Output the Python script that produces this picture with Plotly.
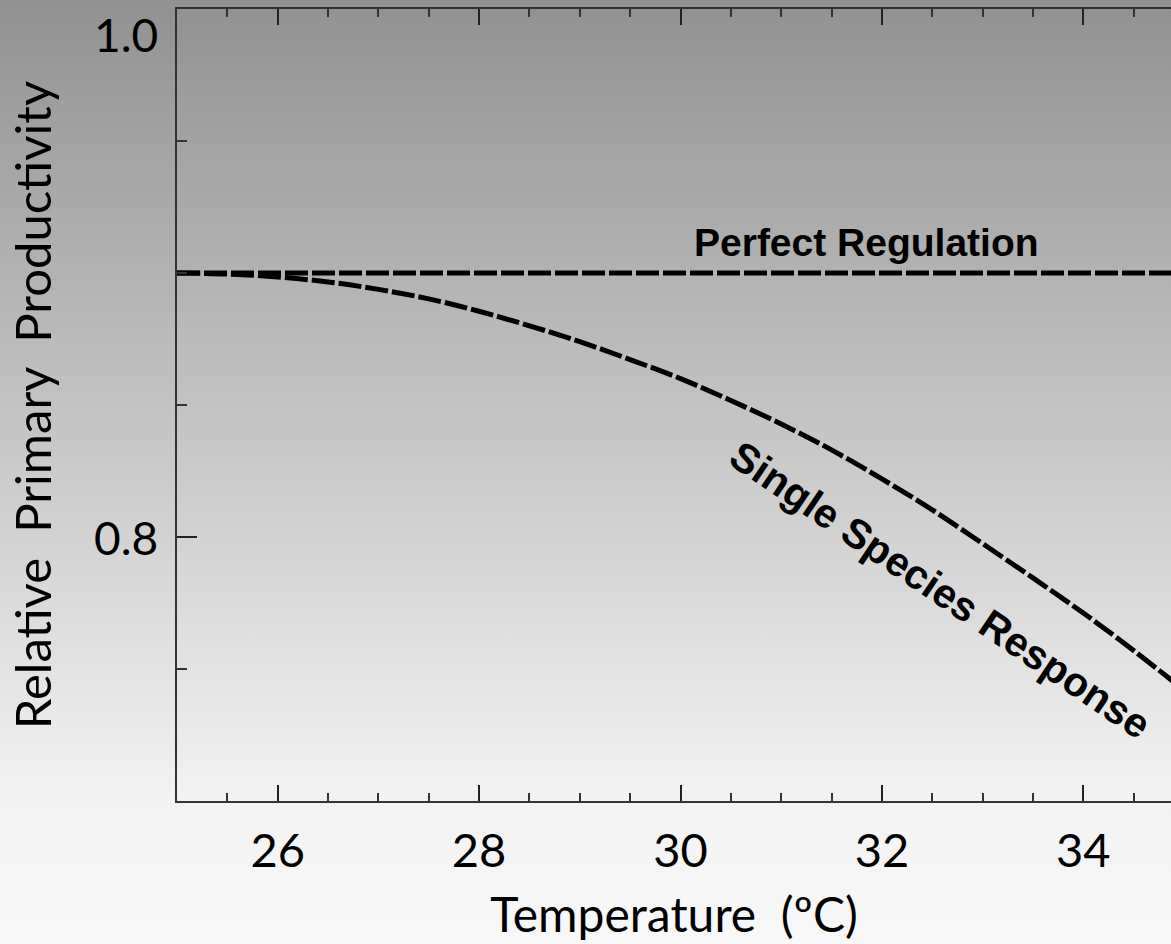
import base64
import plotly.graph_objects as go

# ---- data ----
temperature = [25, 25.5, 26, 26.5, 27, 27.5, 28, 28.5, 29, 29.5, 30,
               30.5, 31, 31.5, 32, 32.5, 33, 33.5, 34, 34.5, 35]
single_species = [0.900, 0.8996, 0.8985, 0.8966, 0.8938, 0.8902, 0.8855,
                  0.8800, 0.8740, 0.8672, 0.8600, 0.8517, 0.8428, 0.8330,
                  0.8220, 0.8103, 0.7975, 0.7845, 0.7712, 0.7570, 0.7420]
perfect_temperature = [25, 35]
perfect_regulation = [0.9, 0.9]

x_major_ticks = [26, 28, 30, 32, 34]
y_major_ticks = [0.8, 1.0]
y_tick_labels = ["0.8", "1.0"]

W, H = 1171, 944
L, R, T, B = 177, 0, 9, 143
PW, PH = W - L - R, H - T - B

AXFONT = "Lato, 'Open Sans', sans-serif"
LBLFONT = "'Liberation Sans', Arial, sans-serif"

svg = (f'<svg xmlns="http://www.w3.org/2000/svg" width="{W}" height="{H}">'
       '<defs><linearGradient id="g" x1="0" y1="0" x2="0" y2="1">'
       '<stop offset="0" stop-color="#919191"/>'
       '<stop offset="0.85" stop-color="#f3f3f3"/>'
       '<stop offset="1" stop-color="#f8f8f8"/>'
       '</linearGradient></defs>'
       f'<rect width="{W}" height="{H}" fill="url(#g)"/></svg>')
bg_src = "data:image/svg+xml;base64," + base64.b64encode(svg.encode()).decode()

fig = go.Figure()
fig.add_trace(go.Scatter(x=perfect_temperature, y=perfect_regulation, mode="lines",
                         line=dict(color="black", width=5, dash="23px,4px"),
                         showlegend=False, hoverinfo="skip"))
fig.add_trace(go.Scatter(x=temperature, y=single_species, mode="lines",
                         line=dict(color="black", width=5, dash="23px,4px", shape="spline"),
                         showlegend=False, hoverinfo="skip"))

fig.update_layout(
    width=W, height=H,
    margin=dict(l=L, r=R, t=T, b=B, pad=0, autoexpand=False),
    paper_bgcolor="#f8f8f8",
    plot_bgcolor="rgba(0,0,0,0)",
    images=[dict(source=bg_src, xref="paper", yref="paper",
                 x=-L / PW, y=1 + T / PH, sizex=W / PW, sizey=H / PH,
                 xanchor="left", yanchor="top", sizing="stretch",
                 layer="below")],
    xaxis=dict(
        range=[25, 25 + PW / 100.7],
        tickmode="array", tickvals=x_major_ticks,
        ticks="inside", ticklen=16, tickwidth=1.5, tickcolor="#222",
        showline=True, linecolor="#333", linewidth=1.5, mirror="ticks",
        showgrid=False, zeroline=False,
        minor=dict(dtick=0.5, tick0=25, ticks="inside", ticklen=8,
                   tickwidth=1.5, tickcolor="#333", showgrid=False),
        tickfont=dict(family=AXFONT, size=47, color="black"),
        ticklabelstandoff=8,
        title=dict(text="Temperature\u00a0\u00a0(\u00baC)",
                   font=dict(family=AXFONT, size=48, color="black"),
                   standoff=22),
    ),
    yaxis=dict(
        range=[0.7, 1.0],
        tickmode="array", tickvals=y_major_ticks, showticklabels=False,
        ticks="inside", ticklen=20, tickwidth=1.5, tickcolor="#222",
        showline=True, linecolor="#333", linewidth=1.5, mirror=False,
        showgrid=False, zeroline=False,
        minor=dict(dtick=0.05, tick0=0.7, ticks="inside", ticklen=10,
                   tickwidth=1.5, tickcolor="#333", showgrid=False),
        title=dict(text="Relative\u00a0\u00a0Primary\u00a0\u00a0Productivity",
                   font=dict(family=AXFONT, size=49, color="black"),
                   standoff=108),
    ),
)

annotations = []
for val, txt in zip(y_major_ticks, y_tick_labels):
    annotations.append(dict(
        x=-17 / PW, xref="paper", y=val, yref="y", text=txt,
        xanchor="right", yanchor="middle", showarrow=False,
        yshift=-25 if val >= 1.0 else 0,
        font=dict(family=AXFONT, size=46, color="black")))

annotations.append(dict(x=31.85, y=0.9114, xref="x", yref="y",
                        text="<b>Perfect Regulation</b>", showarrow=False,
                        xanchor="center", yanchor="middle",
                        font=dict(family=LBLFONT, size=39, color="black")))
annotations.append(dict(x=32.58, y=0.780, xref="x", yref="y",
                        text="<b>Single Species Response</b>", showarrow=False,
                        textangle=34, xanchor="center", yanchor="middle",
                        font=dict(family=LBLFONT, size=41, color="black")))
fig.update_layout(annotations=annotations)

fig.write_html("out.html")
